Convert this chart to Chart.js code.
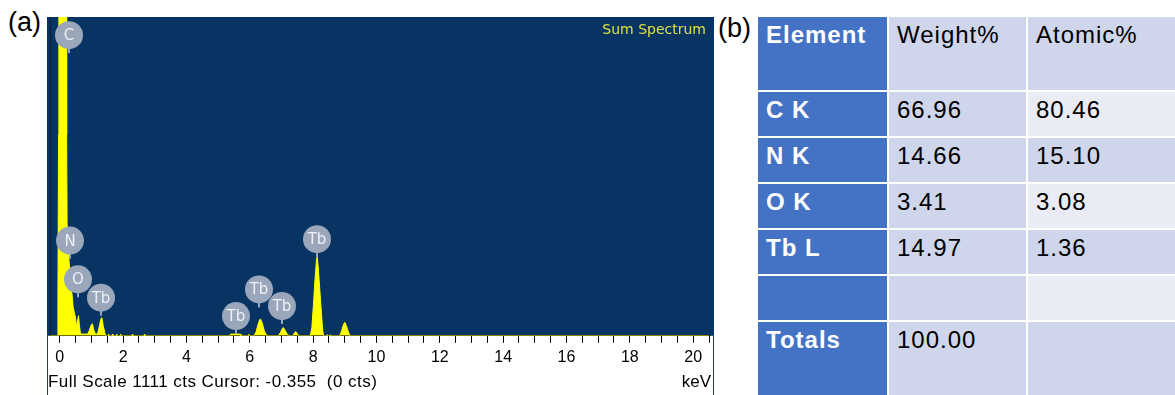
<!DOCTYPE html>
<html>
<head>
<meta charset="utf-8">
<script src="https://cdn.jsdelivr.net/npm/chart.js@4.4.0/dist/chart.umd.min.js"></script>
<style>
    body { margin: 0; width: 1175px; height: 395px; overflow: hidden; position: relative; background: #fff; font-family: "Liberation Sans", Arial, sans-serif; }
    .panel-tag { position: absolute; font-size: 27px; line-height: 1; color: #000; }
    #specBox { position: absolute; left: 47px; top: 17px; width: 667px; height: 378px; }
    #sumSpectrum { position: absolute; top: 21px; left: 560px; width: 146px; text-align: right; font: 14px "DejaVu Sans", sans-serif; line-height: 1.2; color: #e0e040; }
    .footer { position: absolute; top: 372px; font-size: 17px; line-height: 20px; color: #000; white-space: pre; }
    .cell { position: absolute; box-sizing: border-box; padding: 4px 8px; font-size: 24px; line-height: 1.2; letter-spacing: 1px; white-space: pre; }
</style>
</head>
<body>
<div class="panel-tag" style="left:8px; top:9px;">(a)</div>
<div class="panel-tag" style="left:718px; top:15px;">(b)</div>
<div id="specBox"><canvas id="specChart"></canvas></div>
<div id="sumSpectrum">Sum Spectrum</div>
<div class="footer" id="footLeft" style="left:48px; letter-spacing:0.45px;"></div>
<div class="footer" style="left:660px; width:51px; text-align:right;">keV</div>
<div id="table"></div>

<script>
// spectrum (keV, counts)
const specEnergy = [
    -0.31, -0.08, -0.06, -0.04, -0.03, 0.20, 0.215, 0.23, 0.26, 0.29, 0.33, 0.37, 0.40, 0.42, 0.46, 0.50,
    0.53, 0.565, 0.59, 0.62, 0.65, 0.68, 0.88, 0.93, 0.99, 1.03, 1.07, 1.12, 1.19, 1.25, 1.30, 1.33,
    1.37, 1.43, 1.46,
    1.525, 1.54, 1.555, 1.645, 1.66, 1.675, 1.775, 1.79, 1.805, 1.905, 1.92, 1.935,
    2.275, 2.29, 2.305, 2.655, 2.67, 2.685,
    5.37, 5.39, 5.70, 5.72, 5.95, 5.97, 5.99,
    6.13, 6.20, 6.26, 6.31, 6.34, 6.39, 6.46, 6.54,
    6.90, 6.97, 7.03, 7.06, 7.10, 7.17, 7.24,
    7.36, 7.42, 7.46, 7.54,
    7.91, 7.96, 8.01, 8.06, 8.11, 8.13, 8.16, 8.21, 8.26, 8.30, 8.33,
    8.43, 8.45, 8.47, 8.53, 8.55, 8.57,
    8.84, 8.90, 8.96, 9.00, 9.05, 9.11, 9.16,
    20.5
];
const specCounts = [
    0, 0, 120, 700, 3000, 3000, 700, 390, 320, 262, 205, 160, 130, 100, 80, 60,
    30, 55, 70, 35, 10, 6, 6, 18, 38, 42, 22, 6, 6, 35, 60, 63,
    35, 7, 0,
    0, 6, 0, 0, 6, 0, 0, 6, 0, 0, 6, 0,
    0, 5, 0, 0, 5, 0,
    0, 6, 6, 0, 0, 5, 0,
    0, 14, 40, 56, 58, 45, 16, 0,
    0, 12, 26, 29, 22, 8, 0,
    0, 12, 14, 0,
    0, 30, 110, 200, 270, 274, 240, 160, 80, 20, 0,
    0, 4, 0, 0, 4, 0,
    0, 18, 40, 47, 35, 14, 0,
    0
];

// peak markers
const peakNames  = ['C', 'N', 'O', 'Tb', 'Tb', 'Tb', 'Tb', 'Tb'];
const peakEnergy = [0.28, 0.31, 0.56, 1.29, 5.55, 6.28, 7.01, 8.11];
const peakCounts = [985, 269, 134, 70, 6, 99, 41, 274];

const fullScale = 1111;
const tickLabels = [0, 2, 4, 6, 8, 10, 12, 14, 16, 18, 20];
const minorTicks = Array.from({ length: 42 }, (_, i) => i * 0.5);

// table (b)
const tableHead = ['Element', 'Weight%', 'Atomic%'];
const elements  = ['C K', 'N K', 'O K', 'Tb L', '', 'Totals'];
const weightPct = ['66.96', '14.66', '3.41', '14.97', '', '100.00'];
const atomicPct = ['80.46', '15.10', '3.08', '1.36', '', ''];

/* ================= TABLE ================= */
const colX = [758, 889, 1028, 1177];
const rowY = [17, 92, 138, 184, 230, 276, 322, 397];

function buildTable() {
    const rows = [tableHead].concat(elements.map((el, i) => [el, weightPct[i], atomicPct[i]]));
    let html = '';
    rows.forEach((row, r) => {
        row.forEach((txt, c) => {
            let bg = '#CFD5EA', color = '#000', weight = 'normal';
            if (c === 0) { bg = '#4472C4'; color = '#fff'; weight = 'bold'; }
            else if (c === 2 && r % 2 === 1) bg = '#E9EBF5';
            html += `<div class="cell" style="left:${colX[c]}px;top:${rowY[r]}px;` +
                `width:${colX[c + 1] - colX[c] - 2}px;height:${rowY[r + 1] - rowY[r] - 2}px;` +
                `background:${bg};color:${color};font-weight:${weight};">${txt}</div>`;
        });
    });
    document.getElementById('table').innerHTML = html;
}

/* ================= SPECTRUM ================= */
const edsFrame = {
    id: 'edsFrame',
    beforeDraw(chart) {
        const { ctx, chartArea, width, height } = chart;
        ctx.save();
        ctx.fillStyle = '#083464';
        ctx.fillRect(0, 0, width, chartArea.bottom);
        ctx.fillStyle = '#111d2b';
        ctx.fillRect(chartArea.left, 0, 1, chartArea.bottom);
        ctx.fillStyle = '#1d3d66';
        ctx.fillRect(0, chartArea.bottom, 1, height - chartArea.bottom);
        ctx.fillRect(width - 1, chartArea.bottom, 1, height - chartArea.bottom);
        ctx.restore();
    },
    afterDatasetsDraw(chart) {
        const { ctx, scales: { x, y } } = chart;
        ctx.save();
        peakNames.forEach((name, i) => {
            const px = Math.round(x.getPixelForValue(peakEnergy[i]));
            const py = y.getPixelForValue(peakCounts[i]);
            const cy = py - 18;
            ctx.fillStyle = '#9aa6ba';
            ctx.fillRect(px - 1, cy + 10, 2, py - cy - 10);
            ctx.beginPath();
            ctx.arc(px, cy, 14, 0, Math.PI * 2);
            ctx.fill();
            ctx.fillStyle = '#eef0f5';
            ctx.font = '15px "DejaVu Sans", sans-serif';
            ctx.textAlign = 'center';
            ctx.textBaseline = 'middle';
            ctx.fillText(name, px, cy + 1);
        });
        ctx.restore();
    }
};

function renderSpectrum() {
    new Chart(document.getElementById('specChart'), {
        type: 'line',
        data: {
            datasets: [{
                data: specEnergy.map((e, i) => ({ x: e, y: specCounts[i] })),
                borderColor: '#ffff00',
                backgroundColor: '#ffff00',
                borderWidth: 1,
                pointRadius: 0,
                fill: 'origin',
                tension: 0
            }]
        },
        options: {
            responsive: true,
            maintainAspectRatio: false,
            animation: false,
            layout: { padding: { left: 3, right: 1, top: 0, bottom: 23 } },
            plugins: { legend: { display: false }, tooltip: { enabled: false } },
            scales: {
                x: {
                    type: 'linear',
                    min: -0.31,
                    max: 20.5,
                    afterBuildTicks: scale => { scale.ticks = minorTicks.map(v => ({ value: v })); },
                    grid: { drawOnChartArea: false, drawTicks: true, tickLength: 7, color: '#000' },
                    border: { display: true, color: '#000' },
                    ticks: {
                        autoSkip: false,
                        maxRotation: 0,
                        padding: 5,
                        color: '#000',
                        font: { family: '"Liberation Sans", Arial, sans-serif', size: 16 },
                        callback: v => tickLabels.includes(v) ? String(v) : ''
                    }
                },
                y: { display: false, min: 0, max: fullScale }
            }
        },
        plugins: [edsFrame]
    });
}

document.getElementById('footLeft').textContent = `Full Scale ${fullScale} cts Cursor: -0.355  (0 cts)`;
buildTable();
renderSpectrum();
</script>
</body>
</html>
